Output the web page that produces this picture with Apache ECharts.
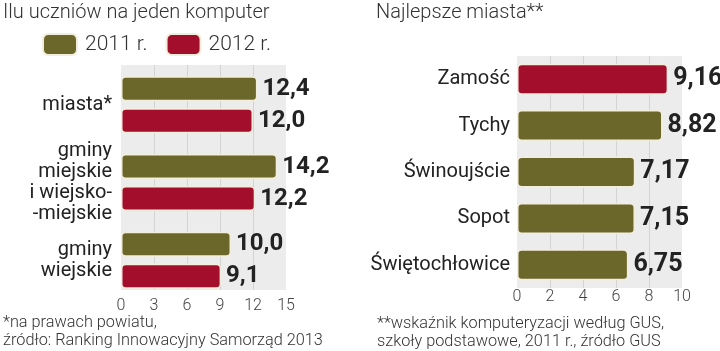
<!DOCTYPE html>
<html>
<head>
<meta charset="utf-8">
<script src="https://cdn.jsdelivr.net/npm/echarts@6/dist/echarts.min.js"></script>
<style>
  html, body { margin: 0; padding: 0; background: #fff; }
  #chart { width: 720px; height: 351px; }
</style>
</head>
<body>
<div id="chart"></div>
<script>
// lewy wykres: ilu uczniow na jeden komputer
const groups = ['miasta*', 'gminy\nmiejskie\ni wiejsko-\n-miejskie', 'gminy\nwiejskie'];
const years = ['2011 r.', '2012 r.'];
const values2011 = [12.4, 14.2, 10.0];
const values2012 = [12.0, 12.2, 9.1];
const ticksLeft = [0, 3, 6, 9, 12, 15];

// prawy wykres: najlepsze miasta
const cities = ['Zamość', 'Tychy', 'Świnoujście', 'Sopot', 'Świętochłowice'];
const cityValues = [9.16, 8.82, 7.17, 7.15, 6.75];
const ticksRight = [0, 2, 4, 6, 8, 10];

const OLIVE = '#6b6629';
const RED = '#a20e2b';
const BG = '#ececec';
const LIGHT = 'Roboto';

const chart = echarts.init(document.getElementById('chart'));

const barStyle = (color) => ({
  color: color,
  borderColor: '#f3eedb',
  borderWidth: 1.5,
  borderRadius: 4
});

const valueLabel = (digits, size) => ({
  show: true,
  position: 'right',
  distance: 5,
  fontFamily: 'Roboto',
  fontWeight: 'bold',
  fontSize: size,
  color: '#222',
  formatter: (p) => p.value.toFixed(digits).replace('.', ',')
});

const valueAxis = (ticks, gridIndex, extra) => Object.assign({
  type: 'value',
  gridIndex: gridIndex,
  min: ticks[0],
  max: ticks[ticks.length - 1],
  interval: ticks[1] - ticks[0],
  axisLine: { show: false },
  axisTick: { show: false },
  splitLine: {
    show: true,
    showMinLine: false,
    showMaxLine: false,
    lineStyle: { color: '#d3d3d3', width: 1 }
  },
  axisLabel: {
    fontFamily: LIGHT,
    fontWeight: 300,
    fontSize: 16,
    color: '#444'
  }
}, extra);

const catAxis = (data, gridIndex, margin) => ({
  type: 'category',
  gridIndex: gridIndex,
  inverse: true,
  data: data,
  axisLine: { show: false },
  axisTick: { show: false },
  axisLabel: {
    margin: margin,
    fontFamily: LIGHT,
    fontSize: 20,
    lineHeight: 21,
    color: '#222'
  }
});

const titleStyle = {
  fontFamily: LIGHT,
  fontWeight: 300,
  fontSize: 20,
  color: '#333'
};
const noteStyle = {
  fontFamily: LIGHT,
  fontWeight: 300,
  fontSize: 16.3,
  lineHeight: 18,
  color: '#333'
};

const option = {
  animation: false,
  title: [
    { text: 'Ilu uczniów na jeden komputer', left: 1, top: 1, padding: 2, textStyle: titleStyle },
    { text: 'Najlepsze miasta**', left: 374, top: 1, padding: 2, textStyle: titleStyle },
    { text: '*na prawach powiatu,\nźródło: Ranking Innowacyjny Samorząd 2013', left: 1, top: 312, padding: 2, textStyle: noteStyle },
    { text: '**wskaźnik komputeryzacji według GUS,\nszkoły podstawowe, 2011 r., źródło GUS', left: 375, top: 313, padding: 2, textStyle: noteStyle }
  ],
  legend: {
    data: years,
    left: 42,
    top: 33,
    padding: 0,
    icon: 'roundRect',
    itemWidth: 34,
    itemHeight: 21,
    itemGap: 18,
    textStyle: {
      fontFamily: LIGHT,
      fontWeight: 300,
      fontSize: 21,
      color: '#333',
      padding: [0, 0, 0, 3]
    }
  },
  grid: [
    // tlo lewego wykresu
    { left: 121, right: 434, top: 65, bottom: 61, show: true, backgroundColor: BG, borderWidth: 0 },
    // slupki lewego wykresu
    { left: 121, right: 434, top: 66, bottom: 52 },
    // prawy wykres
    { left: 517, right: 38, top: 56, bottom: 63, show: true, backgroundColor: BG, borderWidth: 0 }
  ],
  xAxis: [
    valueAxis(ticksLeft, 0, {}),
    valueAxis(ticksLeft, 1, { show: false, splitLine: { show: false } }),
    valueAxis(ticksRight, 2, {})
  ],
  yAxis: [
    { type: 'category', gridIndex: 0, data: [], show: false },
    catAxis(groups, 1, 9),
    catAxis(cities, 2, 7)
  ],
  series: [
    {
      name: years[0],
      type: 'bar',
      xAxisIndex: 1,
      yAxisIndex: 1,
      data: values2011,
      barWidth: 25,
      barGap: '28%',
      itemStyle: barStyle(OLIVE),
      label: valueLabel(1, 24)
    },
    {
      name: years[1],
      type: 'bar',
      xAxisIndex: 1,
      yAxisIndex: 1,
      data: values2012,
      barWidth: 25,
      barGap: '28%',
      itemStyle: barStyle(RED),
      label: valueLabel(1, 24)
    },
    {
      name: 'Najlepsze miasta',
      type: 'bar',
      xAxisIndex: 2,
      yAxisIndex: 2,
      data: cityValues,
      barWidth: 31,
      itemStyle: Object.assign(barStyle(OLIVE), {
        color: (p) => (p.dataIndex === 0 ? RED : OLIVE)
      }),
      label: valueLabel(2, 25)
    }
  ]
};

// etykiety osi X: lewa nizej niz prawa
option.xAxis[0].axisLabel.margin = 8;
option.xAxis[2].axisLabel.margin = 1;

chart.setOption(option);
</script>
</body>
</html>
